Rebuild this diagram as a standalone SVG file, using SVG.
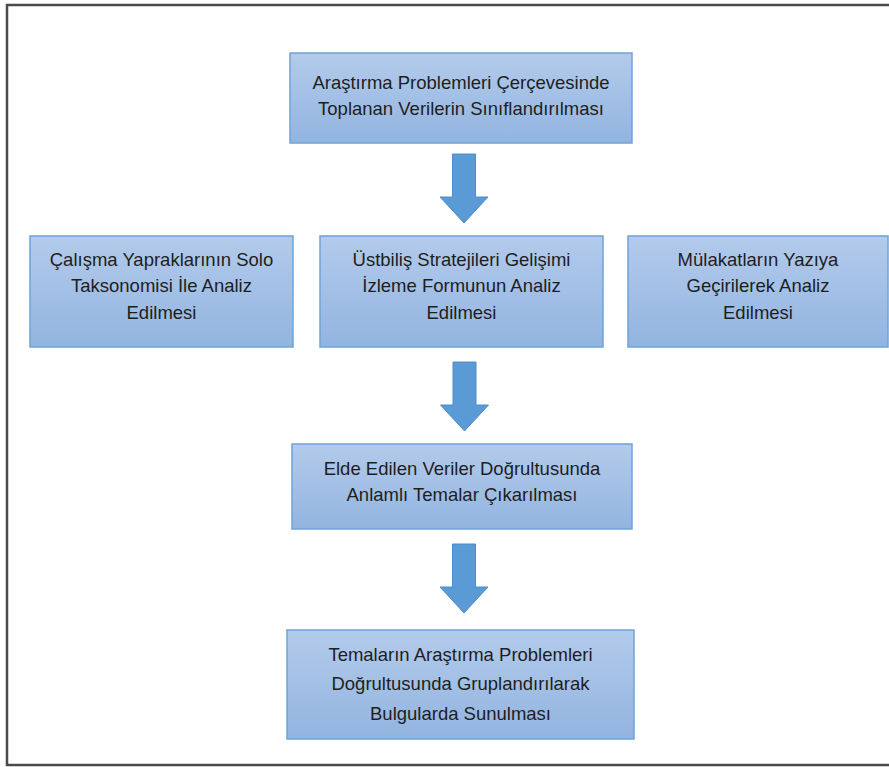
<svg xmlns="http://www.w3.org/2000/svg" width="889" height="767" viewBox="0 0 889 767">
  <defs>
    <linearGradient id="boxFill" x1="0" y1="0" x2="0" y2="1">
      <stop offset="0" stop-color="#b3cbeb"/>
      <stop offset="1" stop-color="#92b4e0"/>
    </linearGradient>
    <path id="downArrow" d="M -11.5 0 H 11.5 V 43 H 24 L 0 69 L -24 43 H -11.5 Z"/>
  </defs>
  <style>
    .frame { fill: #ffffff; stroke: #4a4a4a; stroke-width: 2.5; }
    .box { fill: url(#boxFill); stroke: #6fa3d8; stroke-width: 1.5; }
    .label { font-family: "Liberation Sans", Arial, sans-serif; font-size: 18.5px; fill: #1e1e1e; text-anchor: middle; }
    .arrow { fill: #5b9bd5; stroke: #4f8ccb; stroke-width: 1; }
  </style>

  <!-- outer frame -->
  <rect class="frame" x="7" y="5" width="900" height="760"/>

  <!-- step 1 -->
  <g id="n-siniflandirma">
    <rect class="box" x="290" y="53" width="342" height="90"/>
    <text class="label" x="461" y="89">Araştırma Problemleri Çerçevesinde</text>
    <text class="label" x="461" y="115">Toplanan Verilerin Sınıflandırılması</text>
  </g>

  <!-- step 2: three parallel analyses -->
  <g id="n-solo">
    <rect class="box" x="30" y="236" width="263" height="111"/>
    <text class="label" x="161.5" y="266">Çalışma Yapraklarının Solo</text>
    <text class="label" x="161.5" y="292">Taksonomisi İle Analiz</text>
    <text class="label" x="161.5" y="319">Edilmesi</text>
  </g>
  <g id="n-ustbilis">
    <rect class="box" x="320" y="236" width="283" height="111"/>
    <text class="label" x="461.5" y="266">Üstbiliş Stratejileri Gelişimi</text>
    <text class="label" x="461.5" y="292">İzleme Formunun Analiz</text>
    <text class="label" x="461.5" y="319">Edilmesi</text>
  </g>
  <g id="n-mulakat">
    <rect class="box" x="628" y="236" width="260" height="111"/>
    <text class="label" x="758" y="266">Mülakatların Yazıya</text>
    <text class="label" x="758" y="292">Geçirilerek Analiz</text>
    <text class="label" x="758" y="319">Edilmesi</text>
  </g>

  <!-- step 3 -->
  <g id="n-temalar">
    <rect class="box" x="292" y="444" width="340" height="85"/>
    <text class="label" x="462" y="475">Elde Edilen Veriler Doğrultusunda</text>
    <text class="label" x="462" y="501">Anlamlı Temalar Çıkarılması</text>
  </g>

  <!-- step 4 -->
  <g id="n-bulgular">
    <rect class="box" x="287" y="630" width="347" height="109"/>
    <text class="label" x="460.5" y="661">Temaların Araştırma Problemleri</text>
    <text class="label" x="460.5" y="690">Doğrultusunda Gruplandırılarak</text>
    <text class="label" x="460.5" y="720">Bulgularda Sunulması</text>
  </g>

  <!-- block arrows between steps -->
  <g id="connectors">
    <use href="#downArrow" class="arrow" transform="translate(464 154)"/>
    <use href="#downArrow" class="arrow" transform="translate(464.5 362)"/>
    <use href="#downArrow" class="arrow" transform="translate(464 544)"/>
  </g>
</svg>
